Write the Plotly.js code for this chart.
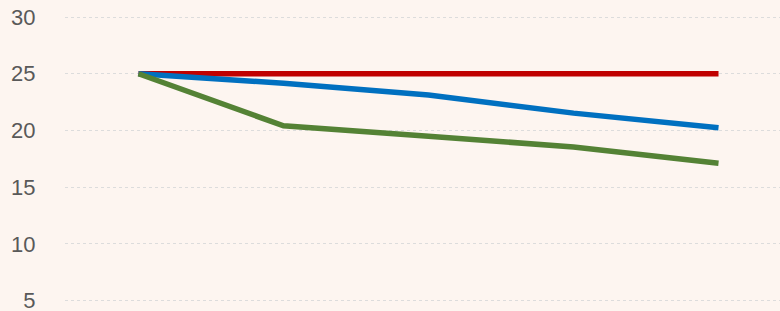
<!DOCTYPE html>
<html>
<head>
<meta charset="utf-8">
<script src="https://cdn.plot.ly/plotly-3.0.1.min.js"></script>
<style>html,body{margin:0;padding:0;background:#fdf5f0;overflow:hidden;}#chart{width:780px;height:311px;}</style>
</head>
<body>
<div id="chart"></div>
<script>
const categories = ["1", "2", "3", "4", "5"];
const redValues = [25, 25, 25, 25, 25];
const blueValues = [25, 24.16, 23.12, 21.53, 20.24];
const greenValues = [25, 20.41, 19.5, 18.54, 17.12];
const yTicks = [5, 10, 15, 20, 25, 30];

const mk = (y, color) => ({
  x: categories, y: y, type: 'scatter', mode: 'lines',
  line: {color: color, width: 5.5}, hoverinfo: 'skip', cliponaxis: false
});

const data = [
  mk(redValues, '#c00000'),
  mk(blueValues, '#0070c0'),
  mk(greenValues, '#548235')
];

const layout = {
  width: 780, height: 311,
  margin: {l: 65, r: 0, t: 0, b: 0, pad: 0},
  paper_bgcolor: '#fdf5f0', plot_bgcolor: '#fdf5f0',
  showlegend: false,
  font: {family: 'Liberation Sans, Arial, sans-serif', size: 22, color: '#595959'},
  xaxis: {type: 'category', range: [-0.507, 4.424], showgrid: false, zeroline: false,
          showticklabels: false, showline: false, ticks: ''},
  yaxis: {range: [4.09, 31.5], tickvals: yTicks, ticktext: yTicks.map(String),
          showgrid: true, gridcolor: '#dcdcdc', griddash: 'dot', gridwidth: 1,
          zeroline: false, showline: false, ticks: 'outside', ticklen: 24,
          tickcolor: 'rgba(0,0,0,0)', ticklabeloverflow: 'allow'}
};

Plotly.newPlot('chart', data, layout, {displayModeBar: false, staticPlot: true});
</script>
</body>
</html>
